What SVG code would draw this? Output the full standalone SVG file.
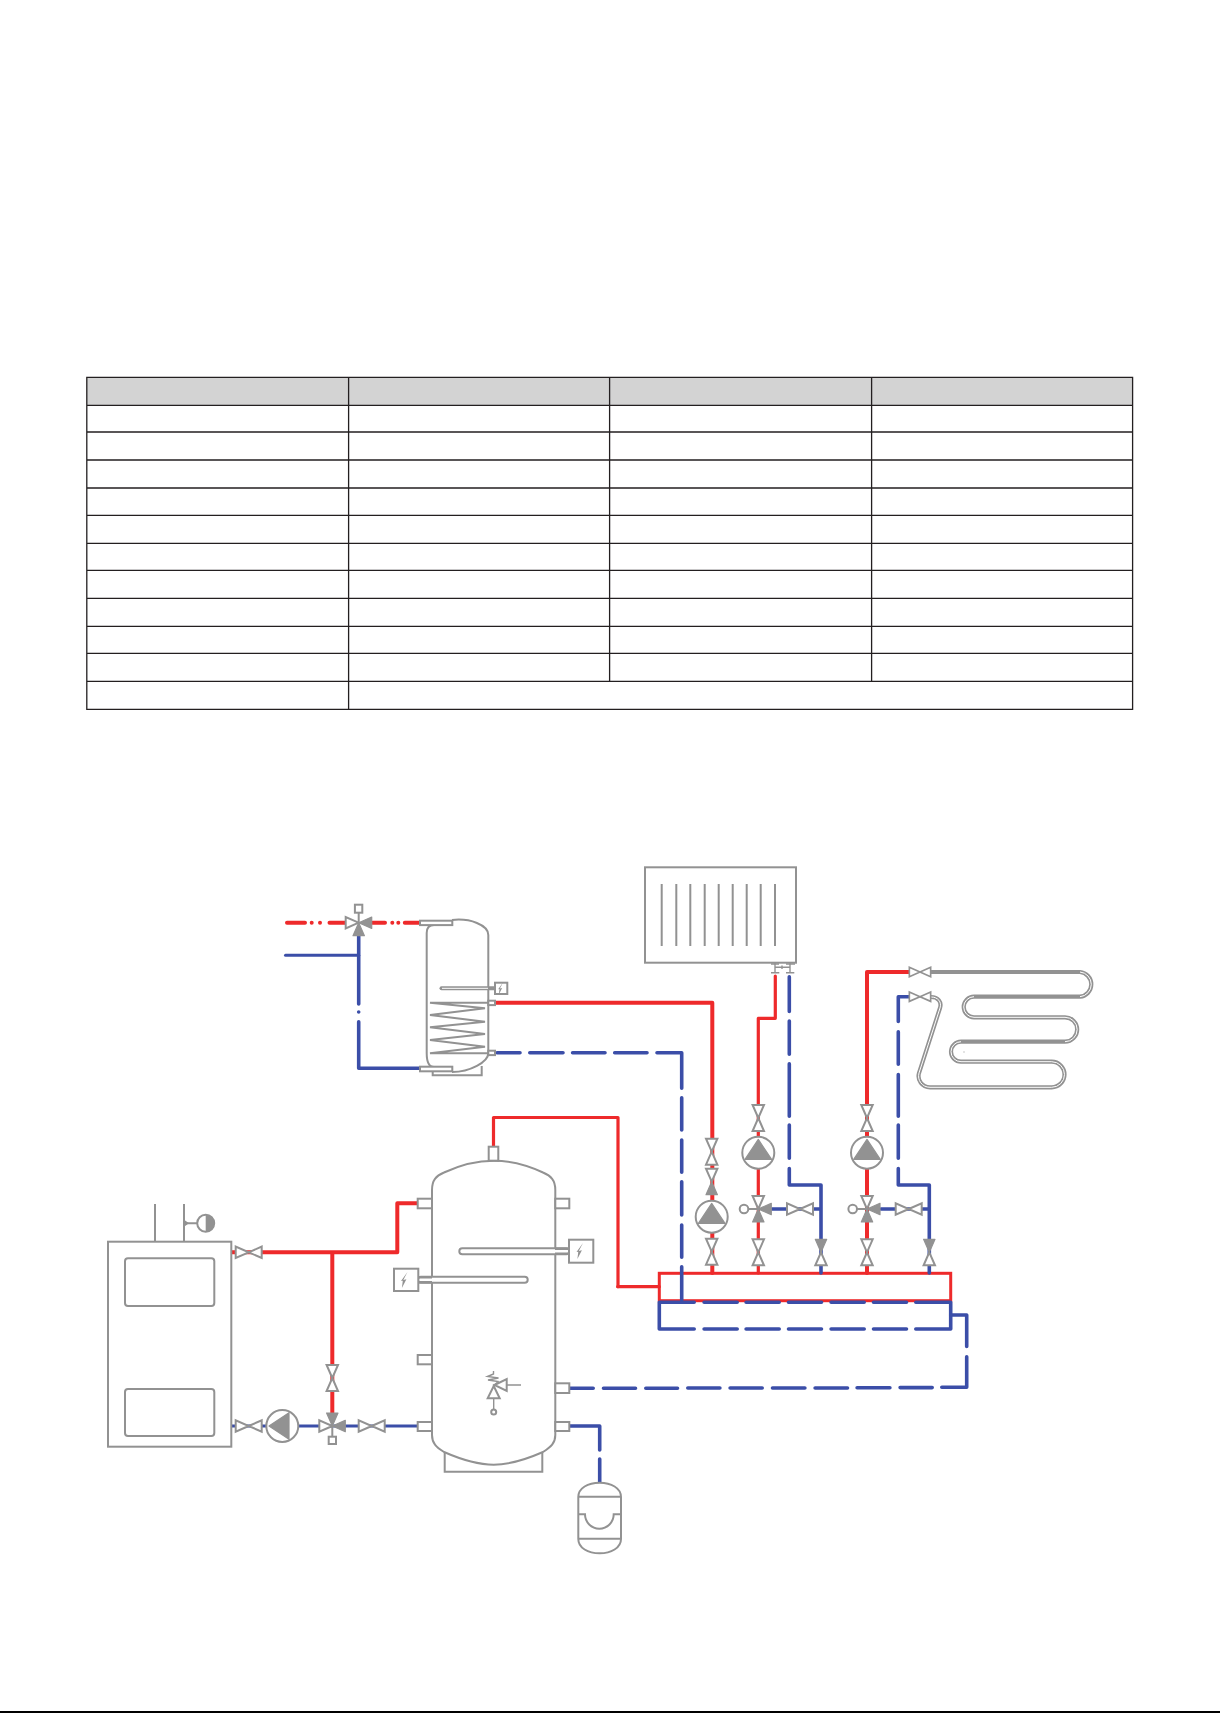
<svg xmlns="http://www.w3.org/2000/svg" width="1220" height="1713" viewBox="0 0 1220 1713">
<style>
.g{fill:none;stroke:#929292;stroke-width:2}
.gw{fill:#fff;stroke:#929292;stroke-width:2}
.gf{fill:#929292;stroke:#929292;stroke-width:1.2;stroke-linejoin:round}
.go{fill:#fff;stroke:#929292;stroke-width:2;stroke-linejoin:miter}
.r{fill:none;stroke:#ee2a2b;stroke-width:4;stroke-linecap:round;stroke-linejoin:round}
.rt{fill:none;stroke:#ee2a2b;stroke-width:3.2;stroke-linecap:round;stroke-linejoin:round}
.b{fill:none;stroke:#3b4ea8;stroke-width:3.6;stroke-linecap:round;stroke-linejoin:round}
.bt{fill:none;stroke:#3b4ea8;stroke-width:3;stroke-linecap:round;stroke-linejoin:round}
.tl{fill:none;stroke:#231f20;stroke-width:1.3}
</style>
<defs>
<path id="to" class="go" d="M0,0L-5.7,-13H5.7Z"/>
<path id="tf" class="gf" d="M0,0L-5.7,-13H5.7Z"/>
<g id="v"><use href="#to"/><use href="#to" transform="rotate(180)"/></g>
<g id="vf"><use href="#tf"/><use href="#to" transform="rotate(180)"/></g>
<g id="pump"><circle class="gw" r="16"/><path class="gf" d="M0,-13.3L13.3,6.7H-13.3Z"/></g>
<g id="mix"><path class="g" d="M0,0H-10"/><circle class="gw" cx="-14.3" r="4.3"/><use href="#to"/><use href="#tf" transform="rotate(90)"/><use href="#tf" transform="rotate(180)"/></g>
<g id="heat"><path d="M2,-8L-2.2,0L.9,-.7L-3.6,8L-2.7,.7L-4.5,1.1Z" fill="#929292"/></g>
</defs>
<rect width="1220" height="1713" fill="#fff"/>

<g id="table">
<rect x="86.8" y="377.3" width="1045.8" height="28" fill="#d3d3d3"/>
<path class="tl" d="M86.8,377.3H1132.6V709.3H86.8ZM86.8,405.3H1132.6M86.8,432H1132.6M86.8,460H1132.6M86.8,488H1132.6M86.8,515.3H1132.6M86.8,543.3H1132.6M86.8,570.3H1132.6M86.8,598.3H1132.6M86.8,626.3H1132.6M86.8,653.3H1132.6M86.8,681.3H1132.6M348.6,377.3V709.3M609.6,377.3V681.3M871.6,377.3V681.3"/>
</g>

<g id="connectors">
<rect x="659.3" y="1273.3" width="291.4" height="27.4" fill="none" stroke="#ee2a2b" stroke-width="3"/>
<path class="b" d="M659.3,1329V1302.3H694.2M704.1,1302.3H737.2M746.1,1302.3H779.2M788.5,1302.3H821.5M831.1,1302.3H864.2M873.5,1302.3H906.5M915.8,1302.3H950.7V1329H915.8M906.5,1329H873.5M864.2,1329H831.1M821.5,1329H788.5M779.2,1329H746.1M737.2,1329H704.1M694.2,1329H659.3"/>
<path class="rt" d="M617.7,1286.7H659.3"/>
<path class="r" d="M305,922.7H287M311.7,922.7h.01M320,922.7h.01M346,922.7H329.5M372.5,922.7H385M392.3,922.7h.01M398.3,922.7h.01M404.8,922.7H419"/>
<path class="b" d="M358.7,935V1004M358.7,1012h.01M358.7,1021.8V1068.3H419"/>
<path class="bt" d="M285.5,955.3H358.7"/>
<path class="r" d="M495,1002.7H712.3V1273"/>
<path class="b" d="M497,1052.7H520M529.8,1052.7H563M572.6,1052.7H605M614.7,1052.7H647M657,1052.7H681.7V1088.2M681.7,1097.8V1129.9M681.7,1140.1V1172.2M681.7,1181.8V1214.9M681.7,1225.1V1257.2M681.7,1266.8V1300"/>
<path class="rt" d="M493.5,1146.7V1117.5H618V1286.7"/>
<path class="rt" d="M775.3,976V1018.3H758.3V1273"/>
<path class="r" d="M910,972H867V1273"/>
<path class="b" d="M789.3,976.8V1011.5M789.3,1021V1054.2M789.3,1063.8V1116.2M789.3,1125V1158.2M789.3,1168.5V1185H821V1273M772,1209H821"/>
<path class="b" d="M910,996.7H898.3V1021.5M898.3,1031.8V1064.2M898.3,1074.5V1116.2M898.3,1125V1158.2M898.3,1168.5V1185H929.3V1273M881,1209H929.3"/>
<path class="b" d="M950.7,1315H966.7V1346.5M966.7,1356.8V1387.3H941.8M932.2,1387.6H900.1M889.9,1387.8H857.1M847.5,1388H815.1M804.9,1388H772.5M762.2,1388H730.1M719.9,1388H687.8M677.5,1388.2H645.8M635.5,1388.3H603.5M593.2,1388.3H570"/>
<path class="b" d="M569.3,1426H599.7V1449.9M599.7,1459.1V1482.7"/>
<path class="r" d="M232,1252.3H397.3V1203.3H417.7M332.3,1252.3V1413"/>
<path class="bt" d="M232,1426H417.7"/>
</g>

<g id="dhw-tank">
<path class="g" d="M426.7,1053V933C426.7,928 429,925 434,925M452,920C470,918 488.3,925 488.3,935V1053C488.3,1062 470,1072 452,1072M426.7,1053C426.7,1063 430,1067 434,1067"/>
<path class="g" d="M432.7,1071.5V1075.3H481.7V1066"/>
<rect class="gw" x="420" y="920.7" width="32.3" height="4.4"/>
<rect class="gw" x="420" y="1066.7" width="32.3" height="4.6"/>
<rect class="gw" x="488.3" y="1000.7" width="6.7" height="4.4"/>
<rect class="gw" x="488.3" y="1050.7" width="6.7" height="4.4"/>
<path class="g" d="M488.3,1002.7H430L485,1008.3L430,1015L485,1021.7L430,1027.3L485,1034L430,1040L485,1046.7L430,1053.3H488.3"/>
<path d="M441.5,988.3H495" fill="none" stroke="#929292" stroke-width="4" stroke-linecap="round"/>
<path d="M442,988.3H488" fill="none" stroke="#fff" stroke-width="1"/>
<rect class="gw" x="495" y="982.7" width="12.3" height="11.3"/>
<use href="#heat" transform="translate(501.5,988.5) scale(.75)"/>
</g>

<g id="mixer-dhw">
<path class="g" d="M358.7,922.7V912.7"/>
<rect class="gw" x="354.9" y="904.7" width="7.4" height="8"/>
<use href="#to" transform="translate(358.7,922.7) rotate(-90)"/>
<use href="#tf" transform="translate(358.7,922.7) rotate(90)"/>
<use href="#tf" transform="translate(358.7,922.7) rotate(180)"/>
</g>

<g id="radiator">
<rect class="g" x="645" y="867.3" width="151" height="95.4"/>
<path class="g" d="M661.7,884V946M676.3,884V946M690.3,884V946M704.7,884V946M718.7,884V946M732.7,884V946M746.7,884V946M760.7,884V946M775,884V946"/>
<path class="g" style="stroke-width:1.4" d="M775,963V972.7M790,963V972.7M771,964H779M786,964H795M771,972.7H779.3M786,972.7H794.3M775,967.3H790M782,965.5V969"/>
</g>

<g id="floor-coil">
<path d="M930.7,972H1080A12.4,12.4 0 0 1 1080,996.7H974A10.3,10.3 0 0 0 974,1017.3H1065A12.2,12.2 0 0 1 1065,1041.7H961A10,10 0 0 0 961,1061.7H1051.7A12.8,12.8 0 0 1 1051.7,1087.3H930C922,1087.3 917,1080 919,1073L940,1008C942,1002 938,997 931,997" fill="none" stroke="#929292" stroke-width="4.2"/>
<path d="M1080,972A12.4,12.4 0 0 1 1080,996.7M974,996.7A10.3,10.3 0 0 0 974,1017.3H1065A12.2,12.2 0 0 1 1065,1041.7M961,1041.7A10,10 0 0 0 961,1061.7H1051.7A12.8,12.8 0 0 1 1051.7,1087.3H930C922,1087.3 917,1080 919,1073L940,1008C942,1002 938,997 931,997" fill="none" stroke="#fff" stroke-width="1"/>
<rect x="963.5" y="1051.5" width="1" height="1" fill="#929292"/>
<use href="#v" transform="translate(920,972) rotate(90) scale(.82)"/>
<use href="#v" transform="translate(920,996.7) rotate(90) scale(.82)"/>
</g>

<g id="valves-manifold">
<use href="#v" transform="translate(711.7,1151.7)"/>
<use href="#vf" transform="translate(711.7,1181.7) rotate(180)"/>
<use href="#pump" transform="translate(711.7,1216.7)"/>
<use href="#v" transform="translate(711.7,1251.7)"/>
<use href="#v" transform="translate(758.3,1118)"/>
<use href="#pump" transform="translate(758.3,1152.7)"/>
<use href="#mix" transform="translate(758.3,1209)"/>
<use href="#v" transform="translate(758.3,1252.3)"/>
<use href="#v" transform="translate(800,1209) rotate(90)"/>
<use href="#vf" transform="translate(821,1252.3)"/>
<use href="#v" transform="translate(867,1118)"/>
<use href="#pump" transform="translate(867,1152.7)"/>
<use href="#mix" transform="translate(867,1209)"/>
<use href="#v" transform="translate(867,1252.3)"/>
<use href="#v" transform="translate(908.7,1209) rotate(90)"/>
<use href="#vf" transform="translate(929.3,1252.3)"/>
</g>

<g id="buffer-tank">
<path class="g" d="M444.7,1453V1471.7H542.3V1453"/>
<path class="gw" d="M432,1190C432,1180 436,1176 444,1172.5C460,1165 478,1160.7 493.7,1160.7C509,1160.7 527,1165 543,1172.5C551,1176 555.3,1180 555.3,1190V1435C555.3,1443 551,1447 543,1452C527,1459 509,1464.7 493.7,1464.7C478,1464.7 460,1459 444,1452C436,1447 432,1443 432,1435Z"/>
<rect class="gw" x="488.7" y="1146.7" width="9.6" height="14"/>
<rect class="gw" x="417.7" y="1198.7" width="14.3" height="9.6"/>
<rect class="gw" x="417.7" y="1355" width="14.3" height="9.3"/>
<rect class="gw" x="417.7" y="1422" width="14.3" height="9"/>
<rect class="gw" x="555.3" y="1198.7" width="14" height="9.6"/>
<rect class="gw" x="555.3" y="1383.3" width="14" height="9.7"/>
<rect class="gw" x="555.3" y="1422" width="14" height="9"/>
<rect class="gw" x="459.3" y="1248.3" width="110" height="6" rx="3"/>
<path d="M555,1248.8H569M555,1253.8H569" fill="none" stroke="#929292" stroke-width="2.6"/>
<rect class="gw" x="569" y="1239.7" width="24.3" height="23"/>
<use href="#heat" transform="translate(581,1251)"/>
<rect class="gw" x="418" y="1276.7" width="109.7" height="6" rx="3"/>
<path d="M418,1277.2H432M418,1282.2H432" fill="none" stroke="#929292" stroke-width="2.6"/>
<rect class="gw" x="394" y="1268.7" width="24.3" height="22.3"/>
<use href="#heat" transform="translate(405.5,1280)"/>
<path class="g" style="stroke-width:1.4" d="M493.5,1371V1374L487.5,1376.5L498.5,1378L488,1380L498,1381.5L493.7,1386M506.7,1385H521M493.7,1398.3V1409.5"/>
<path class="g" d="M493.7,1386L499.7,1398.3H487.7Z"/>
<path class="g" d="M494.5,1385L506.7,1379V1391Z"/>
<circle class="g" cx="493.7" cy="1412" r="2.5"/>
</g>

<g id="boiler">
<rect class="gw" x="108" y="1241.7" width="123.3" height="205"/>
<rect class="g" x="125" y="1258.3" width="89.3" height="47.7" rx="3"/>
<rect class="g" x="125" y="1389" width="89.3" height="47" rx="3"/>
<path class="g" d="M155,1204V1241.7M184,1204V1241.7M184,1223.3H197"/>
<path class="gf" d="M184,1220.5L188,1223.3L184,1226Z"/>
<circle class="gw" cx="205.7" cy="1223.3" r="8.5"/>
<path d="M205.7,1214.8A8.5,8.5 0 0 1 205.7,1231.8Z" fill="#929292"/>
</g>

<g id="boiler-loop">
<use href="#v" transform="translate(248.7,1252.3) rotate(90)"/>
<use href="#v" transform="translate(332.3,1378)"/>
<use href="#v" transform="translate(248.7,1426) rotate(90)"/>
<use href="#pump" transform="translate(282.3,1426) rotate(-90)"/>
<use href="#v" transform="translate(371.7,1426) rotate(90)"/>
<path class="g" d="M332.3,1426V1436.7"/>
<rect class="gw" x="328.7" y="1436.7" width="7.3" height="7.3"/>
<use href="#to" transform="translate(332.3,1426) rotate(-90)"/>
<use href="#tf" transform="translate(332.3,1426)"/>
<use href="#tf" transform="translate(332.3,1426) rotate(90)"/>
</g>

<g id="expansion-vessel">
<path class="gw" d="M578.3,1497C578.3,1488 588,1482.7 599.7,1482.7C611,1482.7 621,1488 621,1497V1539C621,1548 611,1553.3 599.7,1553.3C588,1553.3 578.3,1548 578.3,1539Z"/>
<path class="g" d="M578.3,1496.7H621M578.3,1538.7H621M578.3,1514.3H585A14.3,14.3 0 0 0 613.7,1514.3H621"/>
</g>
<rect id="page-edge" x="0" y="1711" width="1220" height="2" fill="#000"/>
</svg>
